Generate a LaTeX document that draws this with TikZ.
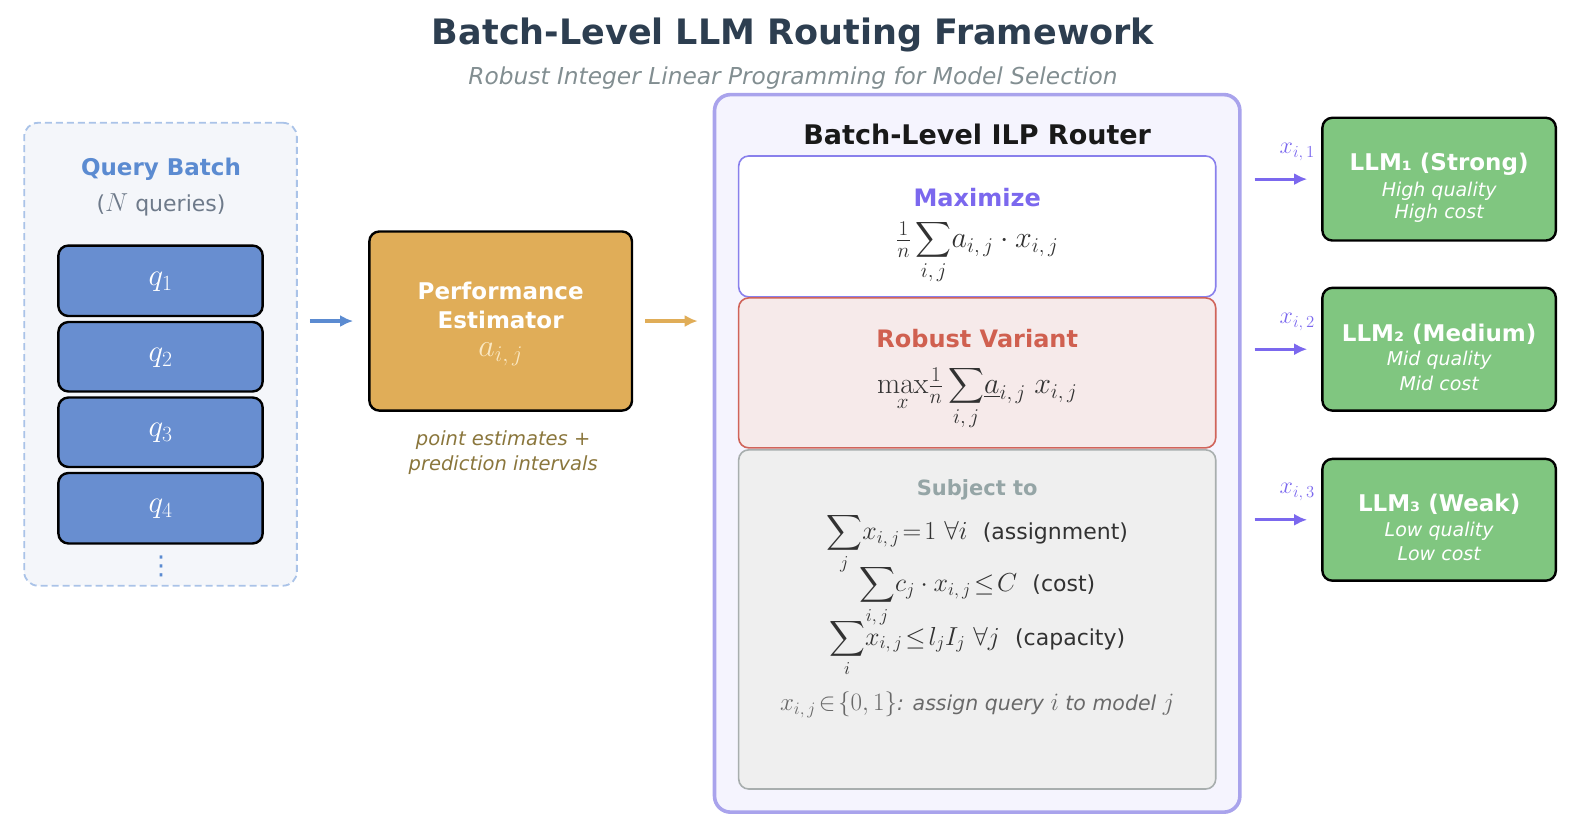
\RequirePackage{fix-cm}
\documentclass[tikz,border=0pt]{standalone}
\usepackage{amsmath}
\usepackage[no-math]{fontspec}
\setmainfont{DejaVu Sans}
\usetikzlibrary{arrows.meta,fit}
\newcommand{\fsz}[1]{\fontsize{#1}{#1}\selectfont}
\definecolor{titlecol}{RGB}{45,62,80}
\definecolor{subcol}{RGB}{130,142,145}
\definecolor{qbcol}{RGB}{91,139,209}
\definecolor{qfill}{RGB}{104,142,208}
\definecolor{qdash}{RGB}{170,195,232}
\definecolor{qbg}{RGB}{244,246,250}
\definecolor{qgray}{RGB}{110,122,138}
\definecolor{estfill}{RGB}{224,173,88}
\definecolor{estsym}{RGB}{250,232,195}
\definecolor{olive}{RGB}{138,118,60}
\definecolor{rbg}{RGB}{245,244,254}
\definecolor{rborder}{RGB}{169,163,236}
\definecolor{maxcol}{RGB}{123,104,238}
\definecolor{maxborder}{RGB}{137,128,236}
\definecolor{robfill}{RGB}{246,234,234}
\definecolor{robborder}{RGB}{208,100,90}
\definecolor{robtext}{RGB}{208,96,80}
\definecolor{subfill}{RGB}{239,239,239}
\definecolor{subborder}{RGB}{168,174,174}
\definecolor{subtext}{RGB}{149,165,166}
\definecolor{llmfill}{RGB}{128,198,128}
\definecolor{dark}{RGB}{50,50,50}
\definecolor{notegray}{RGB}{105,105,105}
\begin{document}
\begin{tikzpicture}[x=1.0064pt,y=-1.0064pt,
  txt/.style={inner sep=0pt, align=center},
  blackbox/.style={draw=black, line width=2.4pt, rounded corners=10pt, inner sep=0pt},
  qbox/.style={blackbox, fill=qfill},
  arr/.style={line width=3.2pt, -{Latex[length=13pt,width=12pt]}},
  panel/.style={line width=1.6pt, rounded corners=10pt, inner sep=0pt}]
\useasboundingbox (0,0) rectangle (1568,823);
% title
\node[txt, text=titlecol, font=\fsz{35}\bfseries] (title) at (788,35) {Batch-Level LLM Routing Framework};
\node[txt, text=subcol, font=\fsz{23.3}\itshape] (subtitle) at (788,78) {Robust Integer Linear Programming for Model Selection};
% query batch
\node[fit={(24,122)(295,582)}, draw=qdash, fill=qbg, dashed, dash pattern=on 7pt off 4pt, line width=1.8pt, rounded corners=14pt, inner sep=0pt] (batch) {};
\node[txt, text=qbcol, font=\fsz{23}\bfseries] (qbt) at (160,168) {Query Batch};
\node[txt, text=qgray, font=\fsz{22}] (qbn) at (160,204) {({\fsz{26}$N$} queries)};
\node[qbox, fit={(58,244)(261,314)}] (q1) {};
\node[qbox, fit={(58,320)(261,389)}] (q2) {};
\node[qbox, fit={(58,395)(261,464)}] (q3) {};
\node[qbox, fit={(58,470)(261,540)}] (q4) {};
\foreach \i in {1,...,4} \node[txt, text=white, font=\fsz{31}] (q\i l) at ([yshift=-1pt]q\i.center) {$q_{\i}$};
\node[txt, text=qbcol, font=\fsz{26}] (dots) at (160,563) {⋮};
% estimator
\node[blackbox, fill=estfill, fit={(367,230)(628,408)}] (est) {};
\node[txt, text=white, font=\fsz{23}\bfseries] (estt1) at (497.5,289) {Performance};
\node[txt, text=white, font=\fsz{23}\bfseries] (estt2) at (497.5,318) {Estimator};
\node[txt, text=estsym, font=\fsz{32}] (esta) at (497.5,352) {$a_{i,\,j}$};
\node[txt, text=olive, font=\fsz{19.5}\itshape] (estn1) at (500,437) {point estimates +};
\node[txt, text=olive, font=\fsz{19.5}\itshape] (estn2) at (500,462) {prediction intervals};
% router
\node[fit={(710,94)(1232,807)}, draw=rborder, fill=rbg, line width=3.6pt, rounded corners=16pt, inner sep=0pt] (router) {};
\node[txt, text=black!90, font=\fsz{27}\bfseries] (rt) at (971,134) {Batch-Level ILP Router};
\node[panel, draw=maxborder, fill=white, fit={(734,155)(1208,295)}] (maxbox) {};
\node[txt, text=maxcol, font=\fsz{24}\bfseries] (maxt) at (971,196) {Maximize};
\node[txt, text=dark, font=\fsz{30}, anchor=base] (maxf) at (971,246) {$\tfrac{1}{n}\displaystyle\sum_{i,\,j}\!a_{i,\,j}\cdot x_{i,\,j}$};
\node[panel, draw=robborder, fill=robfill, fit={(734,296)(1208,445)}] (robbox) {};
\node[txt, text=robtext, font=\fsz{24}\bfseries] (robt) at (971,336) {Robust Variant};
\node[txt, text=dark, font=\fsz{30}, anchor=base] (robf) at (971,391) {$\max\limits_x\!\tfrac{1}{n}\displaystyle\sum_{i,\,j}\!\underline{a}_{i,\,j}\;x_{i,\,j}$};
\node[panel, draw=subborder, fill=subfill, fit={(734,447)(1208,784)}] (subbox) {};
\node[txt, text=subtext, font=\fsz{21}\bfseries] (subt) at (971,487) {Subject to};
\node[txt, text=dark, font=\fsz{26}, anchor=base] (c1) at (971,536) {$\displaystyle\sum_j\!x_{i,\,j}\!=\!1\ \forall i$\ {\fsz{22} (assignment)}};
\node[txt, text=dark, font=\fsz{26}, anchor=base] (c2) at (971,588) {$\displaystyle\sum_{i,\,j}\!c_j\cdot x_{i,\,j}\!\le\! C$\ {\fsz{22} (cost)}};
\node[txt, text=dark, font=\fsz{26}, anchor=base] (c3) at (971,641) {$\displaystyle\sum_i\!x_{i,\,j}\!\le\! l_jI_j\ \forall j$\ {\fsz{22} (capacity)}};
\node[txt, text=notegray, font=\fsz{25}, anchor=base] (note) at (971,706) {$x_{i,\,j}\!\in\!\{0,1\}${\fsz{20.5}\itshape: assign query {\fsz{25}$i$} to model {\fsz{25}$j$}}};
% LLMs
\node[blackbox, fill=llmfill, fit={(1314,117)(1546,239)}] (llm1) {};
\node[blackbox, fill=llmfill, fit={(1314,286)(1546,408)}] (llm2) {};
\node[blackbox, fill=llmfill, fit={(1314,456)(1546,577)}] (llm3) {};
\node[txt, text=white, font=\fsz{23}\bfseries] (l1t) at (1430,163) {LLM₁ (Strong)};
\node[txt, text=white, font=\fsz{19}\itshape] (l1a) at (1430,190) {High quality};
\node[txt, text=white, font=\fsz{19}\itshape] (l1b) at (1430,212) {High cost};
\node[txt, text=white, font=\fsz{23}\bfseries] (l2t) at (1430,332) {LLM₂ (Medium)};
\node[txt, text=white, font=\fsz{19}\itshape] (l2a) at (1430,358) {Mid quality};
\node[txt, text=white, font=\fsz{19}\itshape] (l2b) at (1430,381) {Mid cost};
\node[txt, text=white, font=\fsz{23}\bfseries] (l3t) at (1430,501) {LLM₃ (Weak)};
\node[txt, text=white, font=\fsz{19}\itshape] (l3a) at (1430,528) {Low quality};
\node[txt, text=white, font=\fsz{19}\itshape] (l3b) at (1430,550) {Low cost};
% arrows
\draw[arr, draw=qbcol, fill=qbcol, shorten <=12pt, shorten >=15pt] (batch.east |- est.west) -- (est.west);
\draw[arr, draw=estfill, fill=estfill, shorten <=12pt, shorten >=15pt] (est.east) -- (router.west |- est.east);
\foreach \k/\yy in {1/151,2/320,3/489}{
  \draw[arr, draw=maxcol, fill=maxcol, shorten <=13pt, shorten >=14pt] (router.east |- llm\k.west) -- (llm\k.west);
  \node[txt, text=maxcol, font=\fsz{24}] (xl\k) at (1289,\yy) {$x_{i,\,\k}$};
}
\end{tikzpicture}
\end{document}
